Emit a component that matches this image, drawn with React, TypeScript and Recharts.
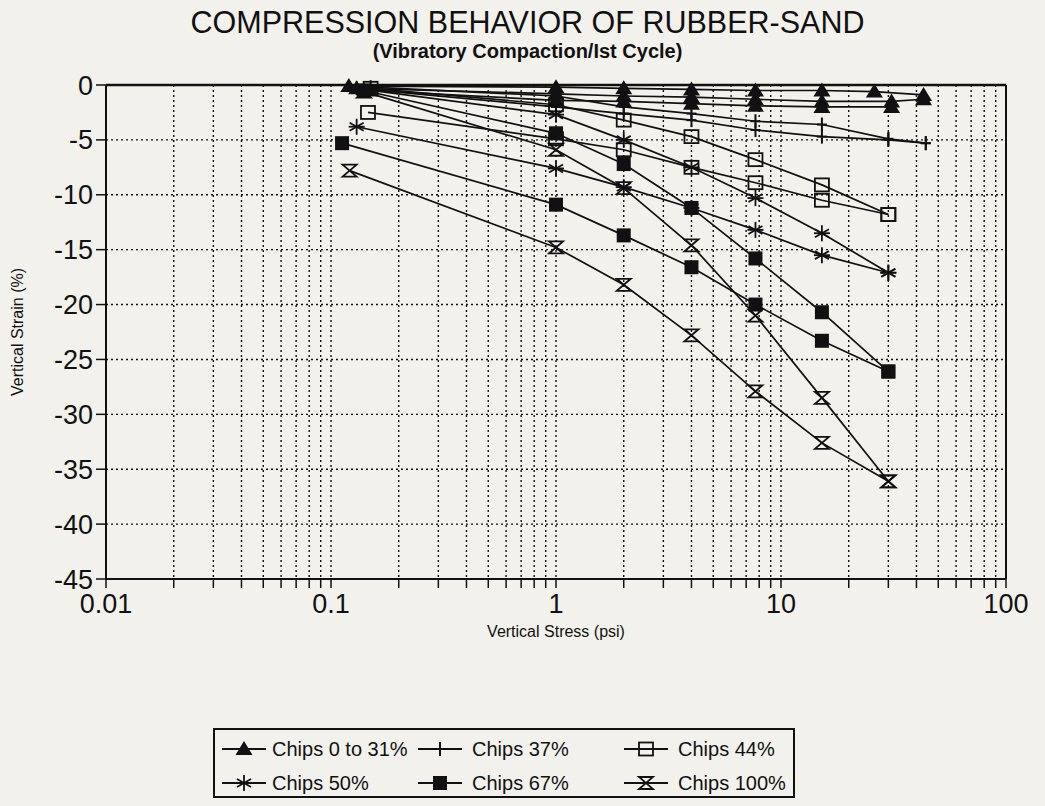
import React from 'react';
import { LineChart, Line, XAxis, YAxis, CartesianGrid, ReferenceLine } from 'recharts';

// ---- data ----
const decadeTicks = [0.01, 0.1, 1, 10, 100];
const strainTicks = [0, -5, -10, -15, -20, -25, -30, -35, -40, -45];

// Chips 0 to 31% (filled triangle) – several tests
const stressT1 = [0.12, 1, 2, 4, 7.7, 15.2, 26, 43];
const strainT1 = [-0.1, -0.2, -0.3, -0.4, -0.5, -0.5, -0.6, -0.9];
const stressT2 = [0.13, 1, 2, 4, 7.7, 15.2, 31, 43];
const strainT2 = [-0.3, -0.8, -1.0, -1.1, -1.3, -1.5, -1.5, -1.3];
const stressT3 = [0.15, 1, 2, 4, 7.7, 15.2, 31];
const strainT3 = [-0.5, -1.4, -1.5, -1.7, -1.9, -2.0, -2.0];

// Chips 37% (cross)
const stress37A = [0.13, 1, 2, 4, 7.7, 15.2, 30, 44];
const strain37A = [-0.3, -2.0, -2.6, -3.2, -4.1, -4.7, -5.0, -5.3];
const stress37B = [0.15, 1, 2, 4, 7.7, 15.2, 30, 44];
const strain37B = [-0.2, -1.0, -2.0, -2.6, -3.3, -3.6, -4.9, -5.3];

// Chips 44% (open square)
const stress44A = [0.146, 1, 2, 4, 7.7, 15.2, 30];
const strain44A = [-2.5, -4.9, -5.9, -7.5, -8.9, -10.5, -11.8];
const stress44B = [0.15, 1, 2, 4, 7.7, 15.2, 30];
const strain44B = [-0.3, -1.8, -3.2, -4.7, -6.8, -9.1, -11.8];

// Chips 50% (asterisk)
const stress50A = [0.13, 1, 2, 4, 7.7, 15.2, 30];
const strain50A = [-3.8, -7.6, -9.3, -11.2, -13.2, -15.5, -17.1];
const stress50B = [0.14, 1, 2, 4, 7.7, 15.2, 30];
const strain50B = [-0.4, -2.7, -5.0, -7.5, -10.3, -13.5, -17.1];

// Chips 67% (filled square)
const stress67A = [0.112, 1, 2, 4, 7.7, 15.2, 30];
const strain67A = [-5.3, -10.9, -13.7, -16.6, -20.0, -23.3, -26.1];
const stress67B = [0.14, 1, 2, 4, 7.7, 15.2, 30];
const strain67B = [-0.5, -4.4, -7.2, -11.2, -15.8, -20.7, -26.1];

// Chips 100% (hourglass)
const stress100A = [0.121, 1, 2, 4, 7.7, 15.2, 30];
const strain100A = [-7.8, -14.8, -18.2, -22.8, -27.9, -32.6, -36.1];
const stress100B = [0.14, 1, 2, 4, 7.7, 15.2, 30];
const strain100B = [-0.6, -5.9, -9.4, -14.6, -21.0, -28.5, -36.1];

const legendNames = ['Chips 0 to 31%', 'Chips 37%', 'Chips 44%', 'Chips 50%', 'Chips 67%', 'Chips 100%'];
const legendMarkers = ['triangle', 'cross', 'openSquare', 'asterisk', 'filledSquare', 'hourglass'];

const zip = (xs: number[], ys: number[]) => xs.map((x, i) => ({ x, y: ys[i] }));

const branches = [
  { id: 't1', marker: 'triangle', data: zip(stressT1, strainT1) },
  { id: 't2', marker: 'triangle', data: zip(stressT2, strainT2) },
  { id: 't3', marker: 'triangle', data: zip(stressT3, strainT3) },
  { id: 'c37a', marker: 'cross', data: zip(stress37A, strain37A) },
  { id: 'c37b', marker: 'cross', data: zip(stress37B, strain37B) },
  { id: 's44a', marker: 'openSquare', data: zip(stress44A, strain44A) },
  { id: 's44b', marker: 'openSquare', data: zip(stress44B, strain44B) },
  { id: 'a50a', marker: 'asterisk', data: zip(stress50A, strain50A) },
  { id: 'a50b', marker: 'asterisk', data: zip(stress50B, strain50B) },
  { id: 'f67a', marker: 'filledSquare', data: zip(stress67A, strain67A) },
  { id: 'f67b', marker: 'filledSquare', data: zip(stress67B, strain67B) },
  { id: 'h100a', marker: 'hourglass', data: zip(stress100A, strain100A) },
  { id: 'h100b', marker: 'hourglass', data: zip(stress100B, strain100B) },
];

// minor gridline positions (1..9 x each decade)
const gridTicks: number[] = [];
decadeTicks.forEach((d, i) => {
  if (i === decadeTicks.length - 1) { gridTicks.push(d); return; }
  for (let k = 1; k <= 9; k++) gridTicks.push(+(d * k).toPrecision(6));
});

const INK = '#111';
const BG = '#f2f1ec';
const FONT = '"Liberation Sans", Arial, Helvetica, sans-serif';

function Marker({ cx, cy, type }: { cx: number; cy: number; type: string }) {
  switch (type) {
    case 'triangle':
      return <path d={`M${cx},${cy - 8} L${cx + 8.5},${cy + 6} L${cx - 8.5},${cy + 6} Z`} fill={INK} />;
    case 'cross':
      return (
        <g stroke={INK} strokeWidth={2}>
          <line x1={cx} y1={cy - 7} x2={cx} y2={cy + 7} />
          <line x1={cx - 5} y1={cy} x2={cx + 5} y2={cy} />
        </g>
      );
    case 'openSquare':
      return <rect x={cx - 7} y={cy - 6.5} width={14} height={13} fill="none" stroke={INK} strokeWidth={1.8} />;
    case 'asterisk':
      return (
        <g stroke={INK} strokeWidth={1.8}>
          <line x1={cx} y1={cy - 8} x2={cx} y2={cy + 8} />
          <line x1={cx - 7} y1={cy - 4} x2={cx + 7} y2={cy + 4} />
          <line x1={cx - 7} y1={cy + 4} x2={cx + 7} y2={cy - 4} />
          <line x1={cx - 8} y1={cy} x2={cx + 8} y2={cy} />
        </g>
      );
    case 'filledSquare':
      return <rect x={cx - 7} y={cy - 7} width={14} height={14} fill={INK} />;
    case 'hourglass':
      return (
        <path
          d={`M${cx - 7},${cy - 6} L${cx + 7},${cy - 6} L${cx - 7},${cy + 6} L${cx + 7},${cy + 6} Z`}
          fill="none"
          stroke={INK}
          strokeWidth={1.8}
          strokeLinejoin="miter"
        />
      );
    default:
      return null;
  }
}

const isDecade = (v: number) => Math.abs(Math.log10(v) - Math.round(Math.log10(v))) < 1e-9;
const fmtX = (v: number) => {
  if (!isDecade(v)) return '';
  const d = decadeTicks.find((t) => Math.abs(t - v) < 1e-12);
  return d === undefined ? '' : String(d);
};

export default function App() {
  const colSym = [222, 418, 624];
  const colText = [272, 472, 678];
  const rows = [749, 783];
  return (
    <div
      style={{
        position: 'absolute',
        left: 0,
        top: 0,
        width: 1045,
        height: 806,
        background: BG,
        fontFamily: FONT,
        color: INK,
        overflow: 'hidden',
      }}
    >
      <div style={{ position: 'absolute', left: 0, width: 1055, top: 5, textAlign: 'center', fontSize: 30.5, lineHeight: '34px' }}>
        COMPRESSION BEHAVIOR OF RUBBER-SAND
      </div>
      <div style={{ position: 'absolute', left: 0, width: 1055, top: 38, textAlign: 'center', fontSize: 20, fontWeight: 'bold', lineHeight: '26px' }}>
        (Vibratory Compaction/Ist Cycle)
      </div>

      <div style={{ position: 'absolute', left: 0, top: 0 }}>
        <LineChart width={1045} height={806} margin={{ top: 85, right: 39, bottom: 187, left: 0 }}>
          <CartesianGrid stroke={INK} strokeDasharray="2 3" strokeWidth={1.4} />
          <XAxis
            type="number"
            dataKey="x"
            scale="log"
            domain={[0.01, 100]}
            ticks={gridTicks}
            interval={0}
            tickFormatter={fmtX}
            allowDataOverflow
            height={40}
            tickSize={9}
            tickMargin={6}
            axisLine={{ stroke: INK, strokeWidth: 2 }}
            tickLine={{ stroke: INK, strokeWidth: 1.5 }}
            tick={{ fill: INK, fontSize: 27, fontFamily: FONT }}
          />
          <YAxis
            type="number"
            dataKey="y"
            domain={[-45, 0]}
            ticks={strainTicks}
            interval={0}
            width={106}
            tickSize={10}
            tickMargin={3}
            axisLine={{ stroke: INK, strokeWidth: 2 }}
            tickLine={{ stroke: INK, strokeWidth: 1.5 }}
            tick={{ fill: INK, fontSize: 27, fontFamily: FONT }}
          />
          <ReferenceLine y={0} stroke={INK} strokeWidth={2.5} />
          <ReferenceLine x={100} stroke={INK} strokeWidth={2} />
          {branches.map((b) => (
            <Line
              key={b.id}
              data={b.data}
              dataKey="y"
              type="linear"
              stroke={INK}
              strokeWidth={1.7}
              isAnimationActive={false}
              activeDot={false}
              dot={(p: any) => <Marker key={`${b.id}-${p.index}`} cx={p.cx} cy={p.cy} type={b.marker} />}
            />
          ))}
        </LineChart>
      </div>

      <div style={{ position: 'absolute', left: 456, width: 200, top: 622, textAlign: 'center', fontSize: 16, lineHeight: '20px' }}>
        Vertical Stress (psi)
      </div>
      <div
        style={{
          position: 'absolute',
          left: 18,
          top: 332,
          transform: 'translate(-50%, -50%) rotate(-90deg)',
          whiteSpace: 'nowrap',
          fontSize: 16,
          lineHeight: '20px',
        }}
      >
        Vertical Strain (%)
      </div>

      <div
        style={{
          position: 'absolute',
          left: 213,
          top: 728,
          width: 582,
          height: 70,
          border: `2px solid ${INK}`,
          boxSizing: 'border-box',
        }}
      />
      {legendNames.map((name, i) => {
        const col = i % 3;
        const row = Math.floor(i / 3);
        const y = rows[row];
        const x0 = colSym[col];
        return (
          <React.Fragment key={name}>
            <svg style={{ position: 'absolute', left: x0, top: y - 12, overflow: 'visible' }} width={44} height={24}>
              <line x1={0} y1={12} x2={44} y2={12} stroke={INK} strokeWidth={1.8} />
              <Marker cx={22} cy={12} type={legendMarkers[i]} />
            </svg>
            <div style={{ position: 'absolute', left: colText[col], top: y - 12, fontSize: 20, lineHeight: '24px', whiteSpace: 'nowrap' }}>
              {name}
            </div>
          </React.Fragment>
        );
      })}
    </div>
  );
}
